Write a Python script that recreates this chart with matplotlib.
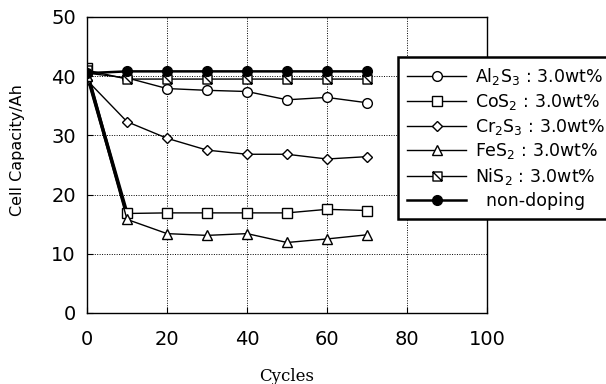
import numpy as np
import matplotlib
matplotlib.use('Agg')
import matplotlib.pyplot as plt
from matplotlib.path import Path

cycles = [0, 10, 20, 30, 40, 50, 60, 70]
al2s3 = [40.5, 39.7, 37.9, 37.6, 37.4, 36.0, 36.4, 35.5]
cos2 = [41.3, 16.8, 16.9, 16.9, 16.9, 16.9, 17.5, 17.3]
cr2s3 = [39.3, 32.3, 29.5, 27.5, 26.8, 26.8, 26.0, 26.4]
fes2 = [40.0, 15.8, 13.4, 13.1, 13.4, 11.9, 12.5, 13.2]
nis2 = [41.0, 39.5, 39.5, 39.5, 39.5, 39.5, 39.5, 39.5]
nondoping = [40.5, 40.8, 40.8, 40.8, 40.8, 40.8, 40.8, 40.8]

labels = [r'Al$_2$S$_3$ : 3.0wt%', r'CoS$_2$ : 3.0wt%', r'Cr$_2$S$_3$ : 3.0wt%',
          r'FeS$_2$ : 3.0wt%', r'NiS$_2$ : 3.0wt%', '  non-doping']

plt.rcParams['mathtext.default'] = 'regular'

# square with a diagonal for the NiS2 marker
sq_diag = Path([(-1, -1), (1, -1), (1, 1), (-1, 1), (-1, -1), (-1, 1), (1, -1)],
               [Path.MOVETO, Path.LINETO, Path.LINETO, Path.LINETO, Path.CLOSEPOLY,
                Path.MOVETO, Path.LINETO])

fig = plt.figure(figsize=(6.06, 3.84), dpi=100)
ax = fig.add_axes([0.1436, 0.185, 0.66, 0.771])

kw = dict(color='black', lw=1.0, mfc='white', mec='black', mew=1.0)
ax.plot(cycles, al2s3, marker='o', ms=7, label=labels[0], **kw)
ax.plot(cycles, cos2, marker='s', ms=6.5, label=labels[1], **kw)
ax.plot(cycles, cr2s3, marker='D', ms=5.5, label=labels[2], **kw)
ax.plot(cycles, fes2, marker='^', ms=7, label=labels[3], **kw)
ax.plot(cycles, nis2, marker=sq_diag, ms=6.5, label=labels[4], **kw)
ax.plot(cycles, nondoping, marker='o', ms=7, color='black', lw=1.8,
        mfc='black', mec='black', label=labels[5])
# thicker initial drop
ax.plot(cycles[:2], [cos2[0] - 1, cos2[1]], color='black', lw=2.5, zorder=1)

ax.set_xlim(0, 100)
ax.set_ylim(0, 50)
ax.set_xticks(np.arange(0, 101, 20))
ax.set_yticks(np.arange(0, 51, 10))
ax.grid(True, linestyle=(0, (1, 1.5)), color='black', lw=0.7)
ax.tick_params(direction='in', length=4, labelsize=14)
ax.tick_params(axis='x', pad=12)
ax.tick_params(axis='y', pad=8)
for s in ax.spines.values():
    s.set_linewidth(1.0)

ax.set_xlabel('Cycles', family='DejaVu Serif', fontsize=12)
ax.xaxis.set_label_coords(0.5, -0.185)
ax.set_ylabel('Cell Capacity/Ah', fontsize=11.5)
ax.yaxis.set_label_coords(-0.155, 0.55)

leg = fig.legend(loc='upper left', bbox_to_anchor=(0.656, 0.852), fontsize=12.5,
                 handlelength=3.4, handletextpad=0.5, labelspacing=0.27,
                 borderpad=0.55, borderaxespad=0, fancybox=False, framealpha=1,
                 edgecolor='black')
leg.get_frame().set_linewidth(1.8)

fig.savefig('out.png', dpi=100)
